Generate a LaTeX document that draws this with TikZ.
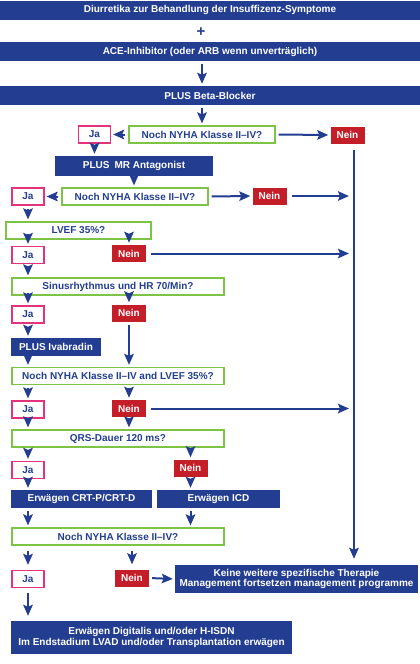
\documentclass[tikz,border=0pt]{standalone}
\usepackage{fontspec}
\setmainfont{Liberation Sans}
\usetikzlibrary{arrows.meta}
\definecolor{nblue}{RGB}{35,62,145}
\definecolor{ngreen}{RGB}{125,195,70}
\definecolor{npink}{RGB}{228,50,125}
\definecolor{nred}{RGB}{196,30,40}
\begin{document}
\begin{tikzpicture}
  [x=1pt,y=-1pt,every node/.style={inner sep=0pt,font=\bfseries}]
  \tikzstyle{blau} = [fill=nblue,text=white,minimum height=19pt]
  \tikzstyle{frage} = [draw=ngreen,line width=1.2pt,fill=white,text=nblue,minimum height=17pt]
  \tikzstyle{ja} = [draw=npink,line width=1.2pt,fill=white,text=nblue,minimum width=32pt,minimum height=17pt]
  \tikzstyle{nein} = [fill=nred,text=white,minimum width=34pt,minimum height=17pt]
  \tikzstyle{pfeil} = [draw=nblue,line width=2pt,-{Stealth[length=11pt,width=9.5pt,inset=2pt]},shorten <=3pt,shorten >=2pt]
  \path[use as bounding box,fill=white] (0,0) rectangle (420,664);
  \node[blau,minimum width=420pt] (diur) at (210,10) {Diurretika zur Behandlung der Insuffizenz-Symptome};
  \node[text=nblue,font=\bfseries\fontsize{15}{15}\selectfont] (plus) at (201,32) {+};
  \node[blau,minimum width=420pt] (ace) at (210,51.5) {ACE-Inhibitor (oder ARB wenn unverträglich)};
  \node[blau,minimum width=420pt] (beta) at (210,95.5) {PLUS Beta-Blocker};
  \node[frage,minimum width=146pt] (q1) at (202,134.5) {Noch NYHA Klasse II–IV?};
  \node[ja] (ja1) at (94.5,134.5) {Ja};
  \node[nein] (nein1) at (347.5,135) {Nein};
  \node[blau,minimum width=158pt,minimum height=20pt] (mra) at (134,166) {PLUS\enspace MR Antagonist};
  \node[frage,minimum width=146pt] (q2) at (135,196.5) {Noch NYHA Klasse II–IV?};
  \node[ja] (ja2) at (28,196.5) {Ja};
  \node[nein] (nein2) at (269.5,196) {Nein};
  \node[frage,minimum width=145pt] (lvef) at (78.5,230.5) {LVEF 35\%?};
  \node[ja] (ja3) at (28,255) {Ja};
  \node[nein] (nein3) at (129,253.5) {Nein};
  \node[frage,minimum width=212pt] (sinus) at (118,286.5) {Sinusrhythmus und HR 70/Min?};
  \node[ja] (ja4) at (28,314.5) {Ja};
  \node[nein] (nein4) at (129,313) {Nein};
  \node[blau,minimum width=90pt,minimum height=18pt] (ivab) at (56,347) {PLUS Ivabradin};
  \node[frage,minimum width=212pt] (q3) at (118,376) {Noch NYHA Klasse II–IV and LVEF 35\%?};
  \node[ja] (ja5) at (28,409.5) {Ja};
  \node[nein] (nein5) at (129,408.5) {Nein};
  \node[frage,minimum width=212pt] (qrs) at (118,438.5) {QRS-Dauer 120 ms?};
  \node[ja] (ja6) at (28,470) {Ja};
  \node[nein] (nein6) at (190.5,468) {Nein};
  \node[blau,minimum width=141pt,minimum height=18pt] (crt) at (81.5,499) {Erwägen CRT-P/CRT-D};
  \node[blau,minimum width=123pt,minimum height=18pt] (icd) at (218.5,499) {Erwägen ICD};
  \node[frage,minimum width=212pt] (q4) at (118,536.5) {Noch NYHA Klasse II–IV?};
  \node[ja] (ja7) at (28,579) {Ja};
  \node[nein] (nein7) at (132,578) {Nein};
  \node[blau,minimum width=243pt,minimum height=28pt,align=center,font=\bfseries\fontsize{10}{10}\selectfont] (keine) at (296.5,579)
    {Keine weitere spezifische Therapie\\Management fortsetzen management programme};
  \node[blau,minimum width=281pt,minimum height=33pt,align=center,font=\bfseries\fontsize{10}{11}\selectfont] (final) at (151.5,637.5)
    {Erwägen Digitalis und/oder H-ISDN\\Im Endstadium LVAD und/oder Transplantation erwägen};
  \coordinate (bus) at (354,150);
  \foreach \source/\dest in {ace.south-|q1/beta.north-|q1,beta.south-|q1/q1.north,q1.west/ja1.east,q1.east/nein1.west,
    ja1.south/ja1.south|-mra.north,mra.south/mra.south|-q2.north,q2.west/ja2.east,q2.east/nein2.west,
    ja2.south/ja2.south|-lvef.north,ja3.north|-lvef/ja3.north,nein3.north|-lvef/nein3.north,
    ja3.south/ja3.south|-sinus.north,ja4.north|-sinus.south/ja4.north,nein4.north|-sinus.south/nein4.north,
    ja4.south/ja4.south|-ivab.north,nein4.south/nein4.south|-q3.north,ja4|-ivab.south/ja4|-q3.north,
    ja5.north|-q3.south/ja5.north,nein5.north|-q3.south/nein5.north,
    ja5.south/ja5.south|-qrs.north,nein5.south/nein5.south|-qrs.north,
    ja6.north|-qrs.south/ja6.north,nein6.north|-qrs.south/nein6.north,
    ja6.south/ja6.south|-crt.north,nein6.south/nein6.south|-icd.north,
    ja6|-crt.south/ja6|-q4.north,nein6|-icd.south/nein6|-q4.north,nein7.east/keine.west}
   \draw[pfeil] (\source) -- (\dest);
  \foreach \source/\dest in {nein2.east/nein2.east-|bus,nein3.east/nein3.east-|bus,nein5.east/nein5.east-|bus,
    ja7.north|-q4.south/ja7.north,nein7.north|-q4.south/nein7.north,ja7.south/ja7.south|-final.north}
   \draw[pfeil,shorten <=5pt,shorten >=5pt] (\source) -- (\dest);
  \draw[pfeil,shorten <=0pt,shorten >=6pt] (bus) -- (bus|-keine.north);
\end{tikzpicture}
\end{document}
